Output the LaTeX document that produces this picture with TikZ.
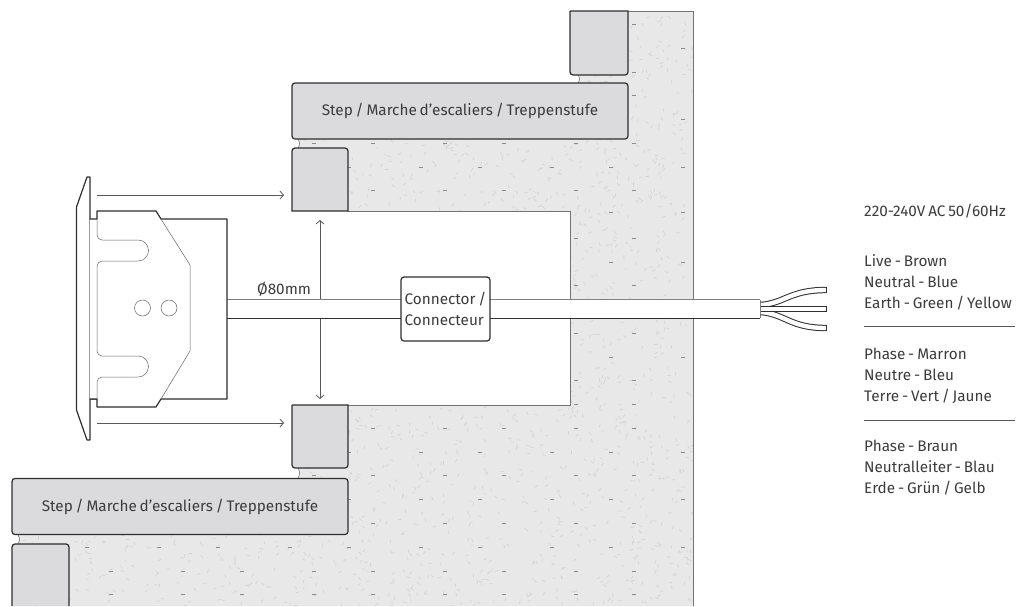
\documentclass[tikz,border=0pt]{standalone}
\usepackage{fontspec}
\usetikzlibrary{arrows.meta}
\setmainfont{Fira Sans}[WordSpace=0.7]
\definecolor{inkdark}{HTML}{2E2E2E}
\definecolor{inktext}{HTML}{3C3C3C}
\definecolor{concrete}{HTML}{E8E8E8}
\definecolor{speck}{HTML}{D2D2D2}
\definecolor{tread}{HTML}{DBDBDD}
\newcommand{\concreteoutline}{(570,11) -- (578,75) .. controls (580,78) and (580,80) .. (578,83)
    -- (292,83) -- (292,139) -- (298,139) .. controls (300,142) and (300,145) .. (298,148)
    -- (292,148) -- (292,211) -- (570,211) -- (570,405) -- (292,405) -- (292,468) -- (298,468)
    .. controls (300,471) and (300,475) .. (298,478) -- (12,478) -- (12,535) -- (18,535)
    .. controls (20,538) and (20,541) .. (18,544) -- (12,544) -- (12,606) -- (693,606)
    -- (693,11) -- cycle}
\begin{document}
\begin{tikzpicture}[x=1pt,y=-1pt,font=\fontsize{15.3}{21}\selectfont,>={Straight Barb[length=3.5pt,width=8pt]}]

        % Styles
        \tikzstyle{wall line}=[draw=black!55,line width=0.9pt]
        \tikzstyle{block}=[draw=inkdark,fill=tread,line width=1.2pt]
        \tikzstyle{stepbox}=[block,rounded corners=3pt,minimum width=336pt,minimum height=56pt,inner sep=0pt,text=inktext]
        \tikzstyle{outline}=[draw=inkdark,line width=1.2pt,line join=round]
        \tikzstyle{thin part}=[draw=black!60,line width=0.5pt]
        \tikzstyle{measure}=[draw=black!65,line width=0.8pt]
        \tikzstyle{wire}=[draw=inkdark,double=white,double distance=4.4pt,line width=1pt]
        \tikzstyle{legend text}=[anchor=base west,inner sep=0pt,text=inktext]
        \useasboundingbox (0,0) rectangle (1017,606);

        %concrete
        \fill[concrete] \concreteoutline;
        \begin{scope}
            \clip \concreteoutline;
            \pgfmathsetseed{17}
            \foreach \i in {1,...,3000} {
                \pgfmathsetmacro{\sx}{12+rnd*681}
                \pgfmathsetmacro{\sy}{11+rnd*595}
                \pgfmathsetmacro{\sa}{rnd*360}
                \draw[speck,line width=0.6pt] (\sx,\sy) -- ++(\sa:3.5pt);
            }
            \foreach \y in {24,72,95,143,190,238,285,333,380,404,428,475,523,571,594}
                \foreach \x in {111,183,242,314,373,445,504,576,634}
                    \draw[black!45,line width=0.7pt] (\x-2,\y) -- (\x+2,\y);
            \foreach \y in {48,119,167,212,262,309,357,452,499,547}
                \foreach \x in {87,159,218,290,349,421,480,552,611,683}
                    \draw[black!45,line width=0.7pt] (\x-2,\y) -- (\x+2,\y);
        \end{scope}
        \draw[wall line] (628,11) -- (693,11) -- (693,606);
        \draw[wall line] (348,211) -- (570,211) -- (570,405) -- (348,405);

        %gaps
        \draw[thin part] (578,75) .. controls (580,78) and (580,80) .. (578,83);
        \draw[thin part] (298,139) .. controls (300,142) and (300,145) .. (298,148);
        \draw[thin part] (298,468) .. controls (300,471) and (300,475) .. (298,478);
        \draw[thin part] (18,535) .. controls (20,538) and (20,541) .. (18,544);

        %steps and blocks
        \node[stepbox] (upper step) at (460,111) {Step / Marche d’escaliers / Treppenstufe};
        \node[stepbox] (lower step) at (180,506.5) {Step / Marche d’escaliers / Treppenstufe};
        \draw[block] (570,11) -- (628,11) [rounded corners=3pt] -- (628,75) -- (570,75) -- (570,30) [sharp corners] -- (570,11);
        \draw[block] (292,211) -- (292,160) [rounded corners=3pt] -- (292,148) -- (348,148) [sharp corners] -- (348,211) -- cycle;
        \draw[block] (292,405) -- (348,405) [rounded corners=3pt] -- (348,468) -- (292,468) -- (292,430) [sharp corners] -- (292,405);
        \draw[block] (12,606) -- (12,560) [rounded corners=3pt] -- (12,544) -- (69,544) [sharp corners] -- (69,606);

        %arrows
        \coordinate (top arrow start) at (97,195);
        \coordinate (top arrow end) at (284,195);
        \coordinate (bottom arrow start) at (97,423);
        \coordinate (bottom arrow end) at (284,423);
        \coordinate (bore top) at (320,220);
        \coordinate (bore bottom) at (320,399);
        \draw[measure,->] (top arrow start) -- (top arrow end);
        \draw[measure,->] (bottom arrow start) -- (bottom arrow end);
        \draw[measure,<->] (bore top) -- (bore bottom);

        %cable
        \fill[white] (227,300) rectangle (760,318);
        \draw[draw=black!50,line width=1pt] (227,299.5) -- (760,299.5);
        \draw[draw=inkdark,line width=1pt] (227,318) -- (760,318);
        \draw[draw=black!50,line width=0.8pt] (760,299.5) -- (760,318);
        \node[legend text] (bore label) at (257,294) {Ø80mm};
        \node[outline,fill=white,rounded corners=3pt,minimum width=89pt,minimum height=64pt,inner sep=0pt,align=left,text=inktext] (connector) at (445.5,309) {Connector /\\Connecteur};

        %wires
        \draw[wire] (761,312) .. controls (785,314) and (790,328) .. (826,328);
        \draw[wire] (761,305) .. controls (785,303) and (790,290) .. (826,290);
        \draw[wire] (761,309) -- (826,309);
        \foreach \y in {290,309,328}
            \draw[inkdark,line width=1pt] (826,\y-3.2) -- (826,\y+3.2);

        %fitting
        \draw[outline,fill=white] (87,177) -- (90,177) -- (90,440) -- (87,440) -- (76.5,410) -- (76.5,207) -- cycle;
        \draw[thin part,fill=white] (89.5,219) rectangle (97,399);
        \draw[outline,fill=white] (89.5,219) -- (97,219) -- (97,211) -- (156,211) -- (161,219) -- (227,219)
            -- (227,399) -- (161,399) -- (156,407) -- (97,407) -- (97,399) -- (89.5,399);
        \draw[thin part,rounded corners=5pt] (97,219) -- (97,240) -- (120,240);
        \draw[thin part] (120,240) -- (138,240) arc (-90:90:10.5) -- (120,261);
        \draw[thin part,rounded corners=5pt] (120,261) -- (97,261) -- (97,356) -- (120,356);
        \draw[thin part] (120,356) -- (138,356) arc (-90:90:10.5) -- (120,377);
        \draw[thin part,rounded corners=5pt] (120,377) -- (97,377) -- (97,399);
        \draw[thin part] (161,219) -- (190,265) -- (190,351) -- (161,399);
        \draw[thin part] (142.5,308) circle (8);
        \draw[thin part] (169,308) circle (8);

        %legend
        \node[legend text] (supply) at (864,216) {220-240V AC 50/60Hz};
        \foreach \y/\wtext in {266/{Live - Brown},287/{Neutral - Blue},308/{Earth - Green / Yellow},
                               359/{Phase - Marron},380/{Neutre - Bleu},401/{Terre - Vert / Jaune},
                               451/{Phase - Braun},472/{Neutralleiter - Blau},493/{Erde - Grün / Gelb}}
            \node[legend text] (legend \y) at (864,\y) {\wtext};
        \draw[black!65,line width=1pt] (864,326) -- (1015,326);
        \draw[black!65,line width=1pt] (864,420.5) -- (1015,420.5);
\end{tikzpicture}
\end{document}
